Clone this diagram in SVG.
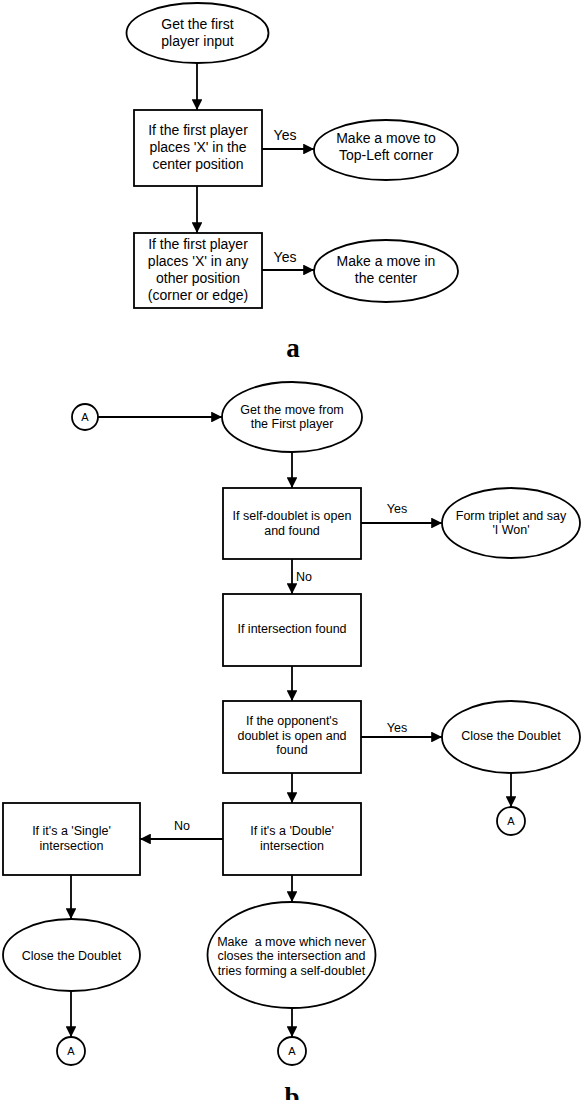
<svg xmlns="http://www.w3.org/2000/svg" width="582" height="1100" viewBox="0 0 582 1100">
<style>
.n{fill:#fff;stroke:#000;stroke-width:1.8}
.c{fill:none;stroke:#000;stroke-width:1.8}
.ta{font-family:"Liberation Sans",Arial,sans-serif;font-size:14px;fill:#000;text-anchor:middle}
.tb{font-family:"Liberation Sans",Arial,sans-serif;font-size:12.5px;fill:#000;text-anchor:middle}
.tc{font-family:"Liberation Sans",Arial,sans-serif;font-size:11px;fill:#000;text-anchor:middle}
.cap{font-family:"Liberation Serif","Times New Roman",serif;font-size:27px;font-weight:bold;fill:#000;text-anchor:middle}
</style>
<defs>
<marker id="ah" viewBox="0 0 10 10" refX="10" refY="5" markerWidth="6" markerHeight="6" orient="auto" markerUnits="strokeWidth">
<path d="M0,0 L10,5 L0,10 Z" fill="#000"/>
</marker>
</defs>
<g id="connectors">
<line class="c" x1="197" y1="63" x2="197" y2="110" marker-end="url(#ah)"/>
<line class="c" x1="262" y1="149" x2="314" y2="149" marker-end="url(#ah)"/>
<line class="c" x1="197" y1="186" x2="197" y2="233" marker-end="url(#ah)"/>
<line class="c" x1="262" y1="270" x2="314" y2="270" marker-end="url(#ah)"/>
<line class="c" x1="98" y1="417" x2="222" y2="417" marker-end="url(#ah)"/>
<line class="c" x1="292" y1="452" x2="292" y2="488" marker-end="url(#ah)"/>
<line class="c" x1="361" y1="523" x2="442" y2="523" marker-end="url(#ah)"/>
<line class="c" x1="292" y1="559" x2="292" y2="594" marker-end="url(#ah)"/>
<line class="c" x1="292" y1="666" x2="292" y2="701" marker-end="url(#ah)"/>
<line class="c" x1="361" y1="737" x2="442" y2="737" marker-end="url(#ah)"/>
<line class="c" x1="511" y1="773" x2="511" y2="807" marker-end="url(#ah)"/>
<line class="c" x1="292" y1="773" x2="292" y2="803" marker-end="url(#ah)"/>
<line class="c" x1="223" y1="839" x2="140" y2="839" marker-end="url(#ah)"/>
<line class="c" x1="71" y1="875" x2="71" y2="919" marker-end="url(#ah)"/>
<line class="c" x1="71" y1="991" x2="71" y2="1037" marker-end="url(#ah)"/>
<line class="c" x1="292" y1="875" x2="292" y2="902" marker-end="url(#ah)"/>
<line class="c" x1="292" y1="1008" x2="292" y2="1037" marker-end="url(#ah)"/>
<text class="ta" x="285" y="140">Yes</text>
<text class="ta" x="285" y="262">Yes</text>
<text class="tb" x="397" y="512.5">Yes</text>
<text class="tb" x="296" y="580.5" style="text-anchor:start">No</text>
<text class="tb" x="397" y="731.5">Yes</text>
<text class="tb" x="182" y="829.5">No</text>
</g>
<g id="a-start">
<ellipse class="n" cx="197.5" cy="33" rx="71" ry="30"/>
<text class="ta" x="197.5" y="29">Get the first</text>
<text class="ta" x="197.5" y="46">player input</text>
</g>
<g id="a-center">
<rect class="n" x="134" y="110" width="128" height="76"/>
<text class="ta" x="198" y="135">If the first player</text>
<text class="ta" x="198" y="152">places 'X' in the</text>
<text class="ta" x="198" y="169">center position</text>
</g>
<g id="a-topleft">
<ellipse class="n" cx="386" cy="150" rx="72" ry="30"/>
<text class="ta" x="386" y="143">Make a move to</text>
<text class="ta" x="386" y="160">Top-Left corner</text>
</g>
<g id="a-other">
<rect class="n" x="134" y="233" width="128" height="75"/>
<text class="ta" x="198" y="249">If the first player</text>
<text class="ta" x="198" y="266">places 'X' in any</text>
<text class="ta" x="198" y="283">other position</text>
<text class="ta" x="198" y="300">(corner or edge)</text>
</g>
<g id="a-middle">
<ellipse class="n" cx="386" cy="271" rx="72" ry="31"/>
<text class="ta" x="386" y="266">Make a move in</text>
<text class="ta" x="386" y="283">the center</text>
</g>
<text class="cap" x="293" y="357">a</text>
<g id="b-A0">
<circle class="n" cx="85" cy="417" r="13"/>
<text class="tc" x="85" y="421">A</text>
</g>
<g id="b-getmove">
<ellipse class="n" cx="292" cy="417" rx="70" ry="35"/>
<text class="tb" x="292" y="413.5">Get the move from</text>
<text class="tb" x="292" y="428">the First player</text>
</g>
<g id="b-selfdoublet">
<rect class="n" x="223" y="488" width="138" height="71"/>
<text class="tb" x="292" y="519.5">If self-doublet is open</text>
<text class="tb" x="292" y="534.5">and found</text>
</g>
<g id="b-triplet">
<ellipse class="n" cx="511" cy="523" rx="69" ry="35"/>
<text class="tb" x="511" y="519.5">Form triplet and say</text>
<text class="tb" x="511" y="534">'I Won'</text>
</g>
<g id="b-intersection">
<rect class="n" x="223" y="594" width="138" height="72"/>
<text class="tb" x="292" y="632.5">If intersection found</text>
</g>
<g id="b-opponent">
<rect class="n" x="223" y="701" width="138" height="72"/>
<text class="tb" x="292" y="724.5">If the opponent's</text>
<text class="tb" x="292" y="739.5">doublet is open and</text>
<text class="tb" x="292" y="753.5">found</text>
</g>
<g id="b-close1">
<ellipse class="n" cx="511" cy="737" rx="69" ry="36"/>
<text class="tb" x="511" y="739.5">Close the Doublet</text>
</g>
<g id="b-A1">
<circle class="n" cx="511" cy="821" r="14"/>
<text class="tc" x="511" y="825">A</text>
</g>
<g id="b-double">
<rect class="n" x="223" y="803" width="138" height="72"/>
<text class="tb" x="292" y="834.5">If it's a 'Double'</text>
<text class="tb" x="292" y="849.5">intersection</text>
</g>
<g id="b-single">
<rect class="n" x="3" y="803" width="137" height="72"/>
<text class="tb" x="71.5" y="834.5">If it's a 'Single'</text>
<text class="tb" x="71.5" y="849.5">intersection</text>
</g>
<g id="b-close2">
<ellipse class="n" cx="71.5" cy="955" rx="68.5" ry="36"/>
<text class="tb" x="71.5" y="959.5">Close the Doublet</text>
</g>
<g id="b-makemove">
<ellipse class="n" cx="291.5" cy="955" rx="84" ry="53"/>
<text class="tb" x="291.5" y="945.5" xml:space="preserve">Make  a move which never</text>
<text class="tb" x="291.5" y="960">closes the intersection and</text>
<text class="tb" x="291.5" y="974.5">tries forming a self-doublet</text>
</g>
<g id="b-A2">
<circle class="n" cx="71" cy="1051" r="14"/>
<text class="tc" x="71" y="1055">A</text>
</g>
<g id="b-A3">
<circle class="n" cx="292" cy="1051" r="14"/>
<text class="tc" x="292" y="1055">A</text>
</g>
<text class="cap" x="292" y="1106">b</text>
</svg>
